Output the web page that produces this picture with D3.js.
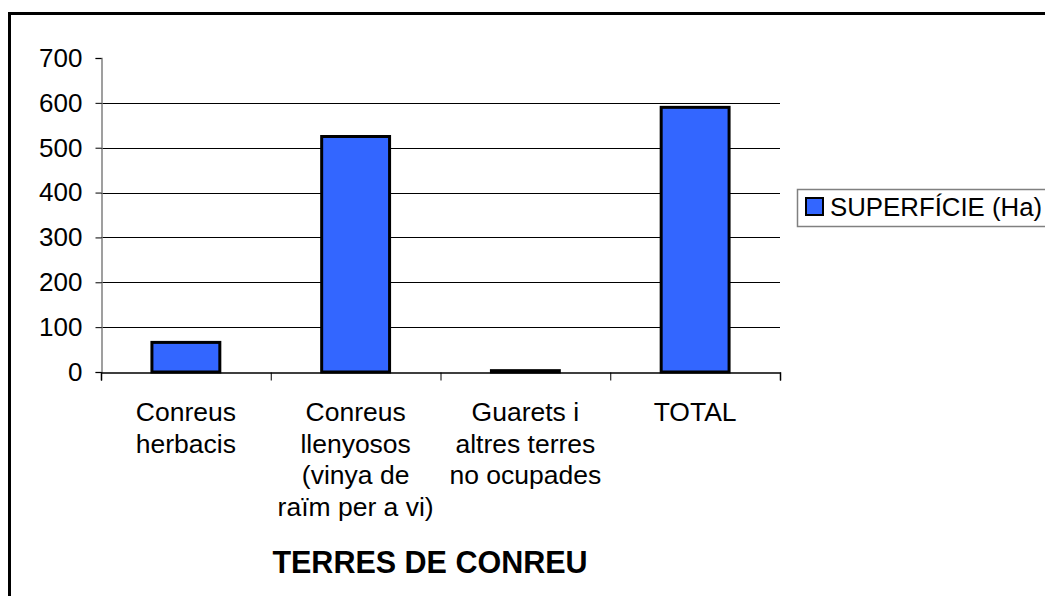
<!DOCTYPE html>
<html>
<head>
<meta charset="utf-8">
<script src="https://cdn.jsdelivr.net/npm/d3@7"></script>
<style>
  body { margin: 0; background: #fff; overflow: hidden; }
  text { font-family: "Liberation Sans", Arial, sans-serif; fill: #000; }
</style>
</head>
<body>
<div id="chart"></div>
<script>
// data
const categories = [
  ["Conreus", "herbacis"],
  ["Conreus", "llenyosos", "(vinya de", "raïm per a vi)"],
  ["Guarets i", "altres terres", "no ocupades"],
  ["TOTAL"]
];
const values = [66, 525, 3, 590];
const yTicks = [0, 100, 200, 300, 400, 500, 600, 700];
const seriesName = "SUPERFÍCIE (Ha)";
const axisTitle = "TERRES DE CONREU";

const W = 1045, H = 596;
const margin = { top: 58, left: 101, right: 265, bottom: 224 };
const width = W - margin.left - margin.right,
  height = H - margin.top - margin.bottom;

const svg = d3.select("#chart")
  .append("svg")
  .attr("width", W)
  .attr("height", H);

// outer frame (right and bottom edges fall outside the picture)
svg.append("rect")
  .attr("x", 9.5).attr("y", 13.5)
  .attr("width", W + 20).attr("height", H + 20)
  .attr("fill", "white")
  .attr("stroke", "#000")
  .attr("stroke-width", 3);

const g = svg.append("g")
  .attr("transform", `translate(${margin.left},${margin.top})`);

const x = d3.scaleBand()
  .domain(d3.range(categories.length))
  .range([0, width])
  .paddingInner(0.6)
  .paddingOuter(0.3);

const xb = d3.scaleLinear().domain([0, categories.length]).range([0, width]);

const y = d3.scaleLinear()
  .domain([0, 700])
  .range([height, 0]);

// gridlines
g.append("g")
  .selectAll("line")
  .data(yTicks.filter(d => d > 0 && d < 700))
  .join("line")
  .attr("x1", 0).attr("x2", width)
  .attr("y1", d => Math.round(y(d)) + 0.5).attr("y2", d => Math.round(y(d)) + 0.5)
  .attr("stroke", "#000")
  .attr("stroke-width", 1);

// y axis
const yAxis = g.append("g")
  .attr("transform", "translate(0.5,0)")
  .call(d3.axisLeft(y).tickValues(yTicks).tickSize(6).tickPadding(13).tickFormat(d3.format("d")));
yAxis.select(".domain").attr("stroke", "#808080").attr("stroke-width", 1.5);
yAxis.selectAll(".tick line").attr("stroke", "#000");
yAxis.selectAll(".tick text")
  .style("font-size", "26px")
  .style("font-family", "'Liberation Sans', Arial, sans-serif");

// bars
g.append("g")
  .selectAll("rect")
  .data(values)
  .join("rect")
  .attr("x", (d, i) => x(i))
  .attr("y", d => y(d))
  .attr("width", x.bandwidth())
  .attr("height", d => y(0) - y(d))
  .attr("fill", "#3366ff")
  .attr("stroke", "#000")
  .attr("stroke-width", 3);

// x axis line and ticks at category boundaries
const xAxis = g.append("g")
  .attr("transform", `translate(0,${Math.round(height) + 0.5})`)
  .call(d3.axisBottom(xb).tickValues(d3.range(categories.length + 1)).tickSize(8).tickFormat(""));
xAxis.select(".domain").attr("stroke", "#000").attr("stroke-width", 1.5);
xAxis.selectAll(".tick line").attr("stroke", "#000");

// category labels
const lineH = 31.5;
g.append("g")
  .selectAll("text")
  .data(categories)
  .join("text")
  .attr("x", (d, i) => x(i) + x.bandwidth() / 2)
  .attr("y", height + 49)
  .attr("text-anchor", "middle")
  .style("font-size", "26.5px")
  .selectAll("tspan")
  .data(d => d)
  .join("tspan")
  .attr("x", function () { return this.parentNode.getAttribute("x"); })
  .attr("dy", (d, i) => i === 0 ? 0 : lineH)
  .text(d => d);

// axis title
g.append("text")
  .attr("x", 430 - margin.left)
  .attr("y", 573 - margin.top)
  .attr("text-anchor", "middle")
  .style("font-size", "30.5px")
  .style("font-weight", "bold")
  .text(axisTitle);

// legend
const legend = svg.append("g").attr("transform", "translate(797,189)");
legend.append("rect")
  .attr("x", 0.5).attr("y", 0.5)
  .attr("width", 300).attr("height", 37)
  .attr("fill", "white")
  .attr("stroke", "#808080")
  .attr("stroke-width", 1.5);
legend.append("rect")
  .attr("x", 9).attr("y", 9)
  .attr("width", 17).attr("height", 17)
  .attr("fill", "#3366ff")
  .attr("stroke", "#000")
  .attr("stroke-width", 2);
legend.append("text")
  .attr("x", 33).attr("y", 27)
  .style("font-size", "25.8px")
  .text(seriesName);
</script>
</body>
</html>
